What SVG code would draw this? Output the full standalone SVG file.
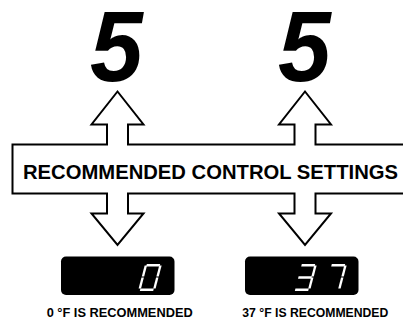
<svg xmlns="http://www.w3.org/2000/svg" width="403" height="324" viewBox="0 0 403 324">
<style>
.big{font-family:"Liberation Sans",Arial,sans-serif;font-weight:bold;font-style:italic;font-size:101px;fill:#000}
.band{font-family:"Liberation Sans",Arial,sans-serif;font-weight:bold;font-size:21px;fill:#000}
.lbl{font-family:"Liberation Sans",Arial,sans-serif;font-weight:bold;font-size:12.5px;fill:#000}
.disp{fill:#000}
.seg{fill:#fff}
</style>
<defs>
<g id="sT"><rect x="1.8" y="-27" width="13.4" height="2.4"/></g>
<g id="sM"><rect x="1.8" y="-14.7" width="13.4" height="2.4"/></g>
<g id="sB"><rect x="1.8" y="-2.4" width="13.4" height="2.4"/></g>
<g id="sUL"><rect x="0" y="-25.6" width="2.4" height="11"/></g>
<g id="sUR"><rect x="14.6" y="-25.6" width="2.4" height="11"/></g>
<g id="sLL"><rect x="0" y="-13.4" width="2.4" height="11"/></g>
<g id="sLR"><rect x="14.6" y="-13.4" width="2.4" height="11"/></g>
</defs>
<rect width="403" height="324" fill="#fff"/>
<g id="banner-arrows">
<path d="M12.5,144.5 H107 V124.5 H91.5 L117.5,91.5 L143.5,124.5 H128 V144.5 H294.5 V124.5 H279 L305,91.5 L331,124.5 H315.5 V144.5 H410 V193.5 H315.5 V213.5 H331 L305,245 L279,213.5 H294.5 V193.5 H128 V213.5 H143.5 L117.5,245 L91.5,213.5 H107 V193.5 H12.5 Z" fill="#fff" stroke="#000" stroke-width="2" stroke-linejoin="miter"/>
<text class="band" x="23" y="178.5" textLength="375" lengthAdjust="spacingAndGlyphs">RECOMMENDED CONTROL SETTINGS</text>
</g>
<g id="setting-left">
<text class="big" transform="translate(116.5,81) scale(0.94,1)" text-anchor="middle">5</text>
</g>
<g id="setting-right">
<text class="big" transform="translate(304.5,81) scale(0.94,1)" text-anchor="middle">5</text>
</g>
<g id="display-left">
<rect class="disp" x="61" y="256.5" width="113.5" height="38.5" rx="5"/>
<g class="seg" transform="translate(138,291) skewX(-14.5)">
<use href="#sT"/><use href="#sB"/><use href="#sUL"/><use href="#sUR"/><use href="#sLL"/><use href="#sLR"/>
</g>
<text class="lbl" x="46.7" y="316.5" textLength="146" lengthAdjust="spacingAndGlyphs">0 °F IS RECOMMENDED</text>
</g>
<g id="display-right">
<rect class="disp" x="245" y="256.5" width="113.5" height="38.5" rx="5"/>
<g class="seg" transform="translate(293,291) skewX(-14.5)">
<use href="#sT"/><use href="#sM"/><use href="#sB"/><use href="#sUR"/><use href="#sLR"/>
</g>
<g class="seg" transform="translate(323,291) skewX(-14.5)">
<use href="#sT"/><use href="#sUR"/><use href="#sLR"/>
</g>
<text class="lbl" x="242.3" y="316.5" textLength="146" lengthAdjust="spacingAndGlyphs">37 °F IS RECOMMENDED</text>
</g>
</svg>
